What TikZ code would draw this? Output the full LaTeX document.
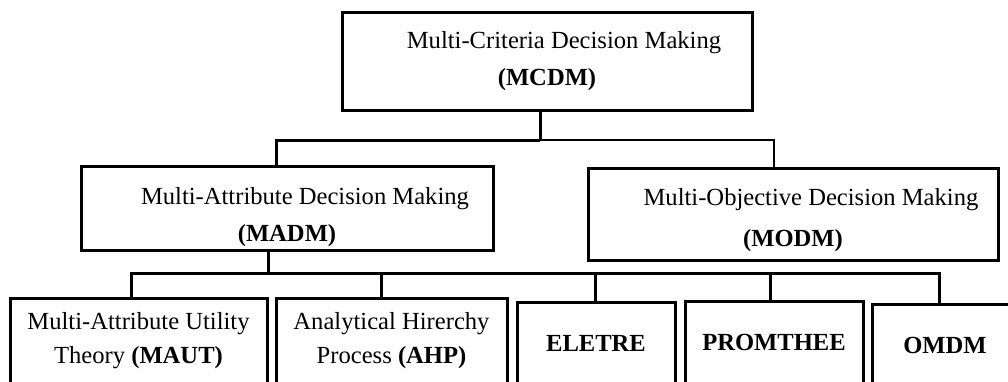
\documentclass[tikz,border=0pt]{standalone}
\usepackage{fontspec}
\setmainfont{Liberation Serif}
\begin{document}
\begin{tikzpicture}[x=0.5pt,y=-0.5pt,
    box/.style={draw, line width=1.5pt, inner sep=0pt, align=center,
      font=\fontsize{12.3}{18.5}\selectfont},
    leaf/.style={box, minimum height=43pt, font=\fontsize{12.3}{17}\selectfont},
    link/.style={line width=1.5pt},
    thinlink/.style={line width=0.6pt}]
    \clip (0,0) rectangle (1008,381);

    \node[box, minimum width=205pt, minimum height=49pt] (mcdm) at (547,61)
      {\hspace*{17pt}Multi-Criteria Decision Making\\ \textbf{(MCDM)}};
    \node[box, minimum width=206pt, minimum height=42pt] (madm) at (287,208)
      {\rule{0pt}{17.4pt}\hspace*{18pt}Multi-Attribute Decision Making\\ \textbf{(MADM)}};
    \node[box, minimum width=205pt, minimum height=46pt] (modm) at (793,214)
      {\rule{0pt}{14.4pt}\hspace*{18pt}Multi-Objective Decision Making\\[2pt] \textbf{(MODM)}};

    \node[leaf, minimum width=128.5pt] (maut) at (138.5,341)
      {Multi-Attribute Utility\\ Theory \textbf{(MAUT)}};
    \node[leaf, minimum width=115.5pt] (ahp) at (391.5,341)
      {Analytical Hirerchy\\ Process \textbf{(AHP)}};
    \node[leaf, minimum width=79pt, minimum height=41pt] (eletre) at (596,343)
      {\textbf{ELETRE}};
    \node[leaf, minimum width=89pt, minimum height=41pt] (promthee) at (774,342)
      {\textbf{PROMTHEE}};
    \node[leaf, minimum width=73pt, minimum height=41pt] (omdm) at (945,345)
      {\textbf{OMDM}};

    \coordinate (j1) at (540,140);
    \coordinate (j2) at (268,273);

    \draw[link] (mcdm.south -| j1) -- (j1);
    \draw[link] ([xshift=-5.5pt]madm.north) |- (j1);
    \draw[thinlink] ([xshift=-9.5pt]modm.north) |- (j1);

    \draw[link] (madm.south -| j2) -- (j2);
    \foreach \n/\dx in {maut/-3.75,ahp/-5.25,eletre/-0.5,promthee/-2,omdm/-3}
      \draw[link] ([xshift=\dx pt]\n.north) |- (j2);
\end{tikzpicture}
\end{document}
